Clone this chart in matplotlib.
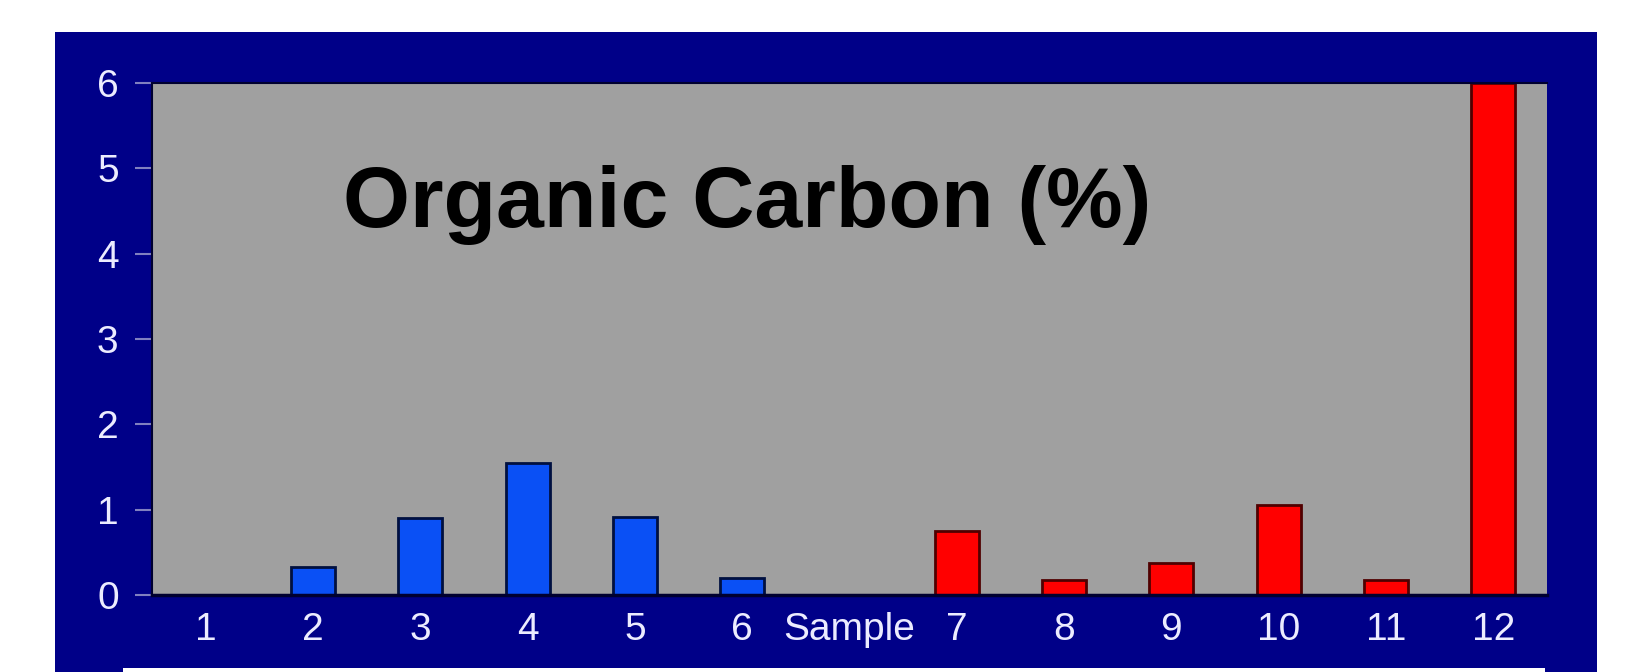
import matplotlib.pyplot as plt
from matplotlib.patches import Rectangle

# --- データ ---
slot_labels = ['1', '2', '3', '4', '5', '6', 'Sample', '7', '8', '9', '10', '11', '12']
blue_samples = [0, 1, 2, 3, 4, 5]          # サンプル 1-6 の位置
blue_values = [0.0, 0.33, 0.90, 1.55, 0.91, 0.20]
red_samples = [7, 8, 9, 10, 11, 12]        # サンプル 7-12 の位置
red_values = [0.75, 0.18, 0.38, 1.05, 0.18, 6.0]
y_ticks = [0, 1, 2, 3, 4, 5, 6]

NAVY = '#000088'
GRAY = '#A0A0A0'
LABEL = '#ECECFF'

plt.rcParams['font.family'] = ['Liberation Sans', 'DejaVu Sans']

fig = plt.figure(figsize=(16.29, 6.72), dpi=100)
fig.patch.set_facecolor('white')

# 背景の紺色パネル（軸より奥に描く）
fig.patches.append(Rectangle((55 / 1629, 0), (1597 - 55) / 1629, (672 - 32) / 672,
                             transform=fig.transFigure, facecolor=NAVY,
                             edgecolor='none', zorder=-2))
# 下端の白い帯
fig.patches.append(Rectangle((123 / 1629, 0), (1545 - 123) / 1629, 4 / 672,
                             transform=fig.transFigure, facecolor='white',
                             edgecolor='none', zorder=-1))

ax = fig.add_axes([152 / 1629, (672 - 595) / 672, (1547 - 152) / 1629, (595 - 83) / 672])
ax.set_zorder(1)
ax.set_facecolor(GRAY)

ax.bar(blue_samples, blue_values, width=0.41, color='#0A50F5',
       edgecolor='#001040', linewidth=2)
ax.bar(red_samples, red_values, width=0.41, color='#FF0000',
       edgecolor='#500000', linewidth=2)

ax.set_xlim(-0.5, 12.5)
ax.set_ylim(0, 6)
ax.set_xticks(range(len(slot_labels)))
ax.set_xticklabels(slot_labels)
ax.set_yticks(y_ticks)

ax.tick_params(axis='x', length=0, pad=12, labelsize=28, labelcolor=LABEL)
ax.tick_params(axis='y', length=12, width=1.5, color='#8080C0', pad=12,
               labelsize=28, labelcolor=LABEL)

ax.spines['right'].set_visible(False)
for side in ['left', 'top']:
    ax.spines[side].set_color('#000030')
    ax.spines[side].set_linewidth(1.5)
ax.spines['bottom'].set_color('#000030')
ax.spines['bottom'].set_linewidth(2.5)

ax.text(1.28, 4.57, 'Organic Carbon (%)', fontsize=62, fontweight='bold',
        color='black', ha='left', va='center')

fig.savefig('out.png', dpi=100)
